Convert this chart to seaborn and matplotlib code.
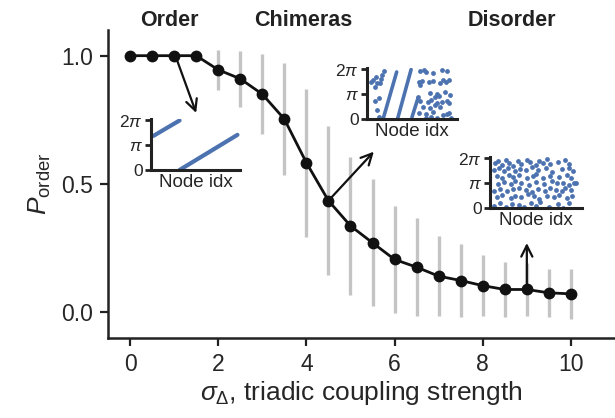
import numpy as np
import pandas as pd
import seaborn as sns
import matplotlib.pyplot as plt

# main curve: order parameter vs triadic coupling strength
sigma = [0, 0.5, 1, 1.5, 2, 2.5, 3, 3.5, 4, 4.5, 5, 5.5, 6, 6.5, 7, 7.5, 8, 8.5, 9, 9.5, 10]
p_order = [1.0, 1.0, 1.0, 1.0, 0.945, 0.91, 0.85, 0.753, 0.583, 0.435, 0.337, 0.271,
           0.206, 0.176, 0.141, 0.124, 0.104, 0.089, 0.089, 0.076, 0.072]
p_std = [0, 0, 0, 0, 0.078, 0.11, 0.155, 0.218, 0.288, 0.29, 0.27, 0.247,
         0.21, 0.19, 0.155, 0.143, 0.12, 0.107, 0.105, 0.094, 0.097]

# inset 1: ordered (twisted) state, two line pieces (node idx, phase / pi)
order_idx_a = [0, 31]
order_ph_a = [1.38, 2.0]
order_idx_b = [31, 100]
order_ph_b = [0.0, 1.42]

# inset 2: chimera - coherent pieces + incoherent dots
chim_lines = [([16, 32], [0.0, 1.9]), ([33, 49], [0.0, 2.0]), ([50, 57], [0.07, 0.83])]
chim_idx = [2, 4, 6, 8, 9, 12, 13, 15, 17, 7, 11, 9, 11,
            59, 64, 67, 75, 85, 91, 58, 62, 70, 75, 83, 87, 90, 94, 60,
            71, 79, 89, 95, 57, 77, 82, 60, 69, 72, 80, 85, 91, 94,
            63, 71, 77, 83, 58, 67, 75, 86, 91, 94, 66, 72, 79, 96]
chim_ph = [1.50, 1.57, 1.28, 1.70, 1.44, 1.46, 1.60, 1.77, 1.95, 0.74, 0.83, 0.36, 0.07,
           1.93, 1.98, 1.90, 1.86, 1.97, 1.95, 1.50, 1.55, 1.48, 1.53, 1.45, 1.56, 1.50, 1.58, 1.37,
           1.05, 1.00, 1.08, 0.98, 0.90, 0.88, 0.92, 0.72, 0.68, 0.75, 0.65, 0.70, 0.74, 0.66,
           0.50, 0.45, 0.55, 0.48, 0.25, 0.20, 0.28, 0.18, 0.22, 0.26, 0.05, 0.08, 0.03, 0.06]

# inset 3: disorder - scattered dots
dis_idx = [3, 6, 11, 15, 19, 23, 29, 33, 40, 43, 50, 53, 58, 63, 66, 75, 84, 88,
           2, 7, 13, 18, 26, 32, 39, 45, 52, 61, 69, 80, 88, 93,
           5, 11, 19, 24, 30, 40, 46, 50, 58, 66, 77, 86, 90,
           6, 13, 21, 26, 33, 42, 50, 59, 69, 74, 81, 88, 94, 96,
           2, 9, 17, 23, 30, 38, 45, 52, 60, 66, 73, 80, 84, 90,
           5, 11, 21, 26, 33, 41, 48, 53, 63, 71, 77, 86, 92,
           2, 8, 15, 22, 30, 36, 44, 50, 55, 65, 75, 81, 88]
dis_ph = [1.80, 1.90, 1.75, 1.93, 1.82, 1.70, 1.88, 1.78, 1.95, 1.85, 1.74, 1.90, 1.80, 1.97, 1.76, 1.86, 1.92, 1.78,
          1.55, 1.60, 1.50, 1.62, 1.48, 1.58, 1.52, 1.64, 1.54, 1.60, 1.47, 1.57, 1.63, 1.51,
          1.30, 1.22, 1.35, 1.25, 1.32, 1.20, 1.28, 1.36, 1.23, 1.30, 1.26, 1.34, 1.21,
          0.98, 1.05, 0.95, 1.08, 1.00, 0.93, 1.04, 0.97, 1.10, 0.99, 1.02, 0.94, 1.00, 1.00,
          0.70, 0.78, 0.68, 0.75, 0.80, 0.72, 0.66, 0.77, 0.70, 0.82, 0.74, 0.68, 0.79, 0.72,
          0.45, 0.52, 0.40, 0.50, 0.43, 0.55, 0.47, 0.38, 0.50, 0.44, 0.53, 0.41, 0.48,
          0.10, 0.22, 0.05, 0.18, 0.12, 0.03, 0.20, 0.08, 0.25, 0.04, 0.15, 0.02, 0.20]

regime_labels = ["Order", "Chimeras", "Disorder"]

sns.set_theme(style="ticks")
plt.rcParams['font.family'] = ['Liberation Sans', 'DejaVu Sans']
plt.rcParams['mathtext.fontset'] = 'custom'
plt.rcParams['mathtext.rm'] = 'Liberation Sans'
plt.rcParams['mathtext.it'] = 'Liberation Sans:italic'

blue = sns.color_palette("deep")[0]
df = pd.DataFrame({'sigma': sigma, 'p': p_order, 'std': p_std})

fig = plt.figure(figsize=(6.15, 4.18), dpi=100)
ax = fig.add_axes([0.1756, 0.1914, 0.8244, 0.7368])

err = df[df['std'] > 0]
ax.vlines(err['sigma'], err['p'] - err['std'], err['p'] + err['std'],
          color='#c4c4c4', lw=2.4, zorder=1)
sns.lineplot(data=df, x='sigma', y='p', color='#111111', lw=2, marker='o',
             markersize=8.5, markeredgewidth=0, ax=ax, zorder=3)

ax.set_xlim(-0.5, 11.0)
ax.set_ylim(-0.1, 1.1)
ax.set_xticks([0, 2, 4, 6, 8, 10])
ax.set_yticks([0.0, 0.5, 1.0])
ax.set_yticklabels(['0.0', '0.5', '1.0'])
ax.tick_params(labelsize=16.5, length=6, width=1.6, color='#222222', pad=5)
for s in ['left', 'bottom']:
    ax.spines[s].set_linewidth(1.8)
    ax.spines[s].set_color('#222222')
sns.despine(ax=ax)
ax.set_xlabel(r'$\sigma_{\Delta}$, triadic coupling strength', fontsize=19, labelpad=2)
ax.set_ylabel(r'$P_{\mathrm{order}}$', fontsize=19, labelpad=6)

# regime headers
for lab, xf in zip(regime_labels, [0.276, 0.493, 0.833]):
    fig.text(xf, 0.952, lab, ha='center', va='center', fontsize=15.5,
             fontweight='bold', color='#222222')

# arrows towards the insets
arr = dict(arrowstyle='->', color='#111111', lw=1.6, mutation_scale=20,
           shrinkA=0, shrinkB=0)
ax.annotate('', xy=(1.5, 0.777), xytext=(1.05, 0.99), arrowprops=arr)
ax.annotate('', xy=(5.53, 0.626), xytext=(4.5, 0.435), arrowprops=arr)
ax.annotate('', xy=(9.0, 0.27), xytext=(9.0, 0.089), arrowprops=arr)


def style_inset(iax):
    iax.set_xlim(-3, 103)
    iax.set_ylim(0, 2.06 * np.pi)
    iax.set_yticks([0, np.pi, 2 * np.pi])
    iax.set_yticklabels(['0', r'$\pi$', r'2$\pi$'])
    iax.set_xticks([])
    iax.set_xlabel('Node idx', fontsize=13.5, labelpad=3)
    iax.set_ylabel('')
    iax.tick_params(axis='y', labelsize=12.5, length=4, width=2, pad=2, color='#222222')
    for s in ['left', 'bottom']:
        iax.spines[s].set_linewidth(2.2)
        iax.spines[s].set_color('#222222')
    sns.despine(ax=iax)
    iax.patch.set_alpha(0)


# inset: order
ax1 = fig.add_axes([0.2455, 0.5933, 0.1447, 0.122])
ax1.plot(order_idx_a, np.array(order_ph_a) * np.pi, color=blue, lw=3, solid_capstyle='round')
ax1.plot(order_idx_b, np.array(order_ph_b) * np.pi, color=blue, lw=3, solid_capstyle='round')
style_inset(ax1)

# inset: chimera
ax2 = fig.add_axes([0.5967, 0.7153, 0.1463, 0.122])
for xs, ys in chim_lines:
    ax2.plot(xs, np.array(ys) * np.pi, color=blue, lw=2.6, solid_capstyle='round')
sns.scatterplot(x=chim_idx, y=np.array(chim_ph) * np.pi, color=blue, s=12,
                linewidth=0, ax=ax2)
style_inset(ax2)

# inset: disorder
ax3 = fig.add_axes([0.7967, 0.5024, 0.1496, 0.122])
sns.scatterplot(x=dis_idx, y=np.array(dis_ph) * np.pi, color=blue, s=12,
                linewidth=0, ax=ax3)
style_inset(ax3)

fig.savefig('out.png', dpi=100)
